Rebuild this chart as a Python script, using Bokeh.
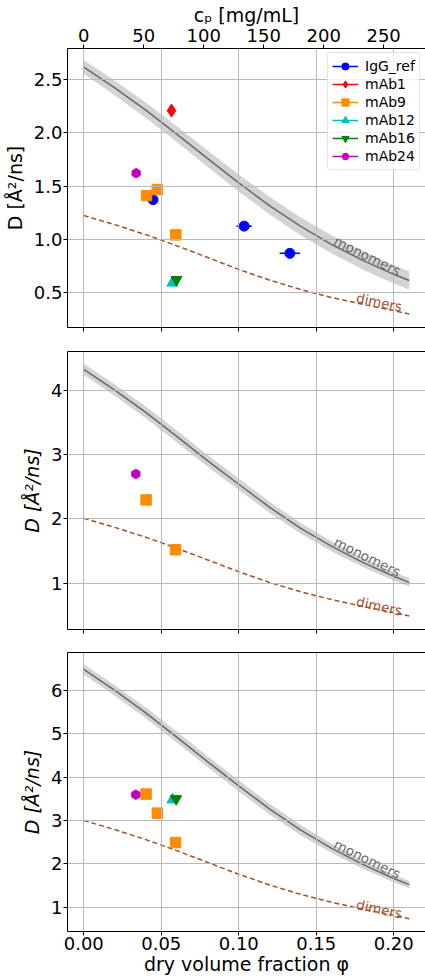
import numpy as np
from bokeh.plotting import figure
from bokeh.models import (Range1d, LinearAxis, FixedTicker, Label, Legend,
                          LegendItem, NumeralTickFormatter)
from bokeh.layouts import column
from bokeh.embed import file_html
from bokeh.resources import INLINE

# ---------------- data ----------------
phi_curve = [0.0, 0.02, 0.04, 0.06, 0.08, 0.10, 0.12, 0.14, 0.16, 0.18, 0.20, 0.21]

mono_top = [2.62, 2.423, 2.214, 1.989, 1.758, 1.530, 1.315, 1.121, 0.951, 0.802, 0.671, 0.613]
mono_top_band = [0.065, 0.068, 0.072, 0.075, 0.078, 0.080, 0.082, 0.083, 0.084, 0.085, 0.086, 0.087]
dim_top = [1.224, 1.138, 1.044, 0.940, 0.829, 0.717, 0.616, 0.528, 0.453, 0.389, 0.330, 0.297]

mono_mid = [4.33, 4.005, 3.659, 3.286, 2.905, 2.540, 2.180, 1.853, 1.572, 1.325, 1.108, 1.013]
mono_mid_band = [0.086, 0.088, 0.090, 0.091, 0.091, 0.090, 0.087, 0.083, 0.078, 0.073, 0.068, 0.066]
dim_mid = [2.01, 1.869, 1.715, 1.544, 1.361, 1.178, 1.011, 0.866, 0.744, 0.639, 0.543, 0.488]

mono_bot = [6.49, 6.003, 5.484, 4.926, 4.355, 3.800, 3.262, 2.778, 2.356, 1.986, 1.661, 1.519]
mono_bot_band = [0.116, 0.120, 0.124, 0.127, 0.128, 0.128, 0.125, 0.118, 0.108, 0.098, 0.088, 0.085]
dim_bot = [3.0, 2.79, 2.559, 2.304, 2.031, 1.758, 1.509, 1.293, 1.110, 0.954, 0.810, 0.729]

# top panel points
igg_phi = [0.0447, 0.1035, 0.133]
igg_D = [1.373, 1.124, 0.868]
igg_phi_err = [0.002, 0.005, 0.0066]
mab1_phi_top = [0.0566]
mab1_D_top = [2.21]
mab9_phi_top = [0.0405, 0.0475, 0.0594]
mab9_D_top = [1.411, 1.468, 1.042]
mab12_phi_top = [0.0572]
mab12_D_top = [0.59]
mab16_phi_top = [0.0598]
mab16_D_top = [0.62]
mab24_phi_top = [0.0338]
mab24_D_top = [1.622]

# middle panel points
mab9_phi_mid = [0.0402, 0.0592]
mab9_D_mid = [2.297, 1.52]
mab24_phi_mid = [0.0336]
mab24_D_mid = [2.70]

# bottom panel points
mab9_phi_bot = [0.0402, 0.0475, 0.0592]
mab9_D_bot = [3.61, 3.17, 2.49]
mab12_phi_bot = [0.0572]
mab12_D_bot = [3.48]
mab16_phi_bot = [0.0596]
mab16_D_bot = [3.50]
mab24_phi_bot = [0.0336]
mab24_D_bot = [3.596]

phi_ticks = [0.0, 0.05, 0.10, 0.15, 0.20]
cp_ticks = [0, 50, 100, 150, 200, 250]
CP_PER_PHI = 1292.0
yticks_top = [0.5, 1.0, 1.5, 2.0, 2.5]
yticks_mid = [1, 2, 3, 4]
yticks_bot = [1, 2, 3, 4, 5, 6]

names = ["IgG_ref", "mAb1", "mAb9", "mAb12", "mAb16", "mAb24"]
colors = {"IgG_ref": "#0000ff", "mAb1": "#ff0000", "mAb9": "#ff8c00",
          "mAb12": "#00bfbf", "mAb16": "#008000", "mAb24": "#bf00bf"}

# ---------------- layout constants ----------------
X0, X1 = -0.0105, 0.2205
FONT = "DejaVu Sans"
MONO_C = "#686868"
DIM_C = "#a0522d"


def style_axis(ax, standoff, show_labels=True):
    ax.axis_line_color = "black"
    ax.axis_line_width = 1
    ax.major_tick_line_color = "black"
    ax.major_tick_out = 4
    ax.major_tick_in = 0
    ax.minor_tick_out = 0
    ax.minor_tick_in = 0
    ax.major_label_text_font = FONT
    ax.major_label_standoff = standoff
    if show_labels:
        ax.major_label_text_font_size = "18px"
        ax.major_label_text_color = "black"
    else:
        ax.major_label_text_font_size = "0px"
        ax.major_label_text_color = None
    ax.axis_label_text_font = FONT
    ax.axis_label_text_font_size = "19px"
    ax.axis_label_text_color = "black"


def base_fig(height, top, bottom, y0, y1, yticks, yfmt, ylabel_italic, show_x=False):
    p = figure(width=425, height=height, title=None,
               x_range=Range1d(X0, X1), y_range=Range1d(y0, y1),
               output_backend="svg", toolbar_location=None,
               min_border_left=67, min_border_right=0,
               min_border_top=top, min_border_bottom=bottom)
    p.outline_line_color = None
    p.background_fill_color = "white"
    p.border_fill_color = "white"
    xax = p.below[0]
    yax = p.left[0]
    xax.ticker = FixedTicker(ticks=phi_ticks)
    xax.formatter = NumeralTickFormatter(format="0.00")
    yax.ticker = FixedTicker(ticks=yticks)
    yax.formatter = NumeralTickFormatter(format=yfmt)
    style_axis(xax, 1, show_x)
    style_axis(yax, 1, True)
    yax.axis_label = "D [Å²/ns]"
    yax.axis_label_standoff = 5
    yax.axis_label_text_font_style = "italic" if ylabel_italic else "normal"
    p.xgrid.ticker = FixedTicker(ticks=phi_ticks)
    p.ygrid.ticker = FixedTicker(ticks=yticks)
    for g in (p.xgrid[0], p.ygrid[0]):
        g.grid_line_color = "#b8b8b8"
        g.grid_line_width = 1
        g.level = "glyph"
    return p


def add_spine(p):
    spine = LinearAxis(ticker=FixedTicker(ticks=[]))
    style_axis(spine, 0, False)
    spine.major_tick_out = 1
    p.add_layout(spine, "above")


def draw_curves(p, mono, band, dim, mono_pos, dim_pos):
    lo = [m - b for m, b in zip(mono, band)]
    hi = [m + b for m, b in zip(mono, band)]
    p.varea(x=phi_curve, y1=lo, y2=hi, fill_color="#d3d3d3", level="underlay")
    p.line(phi_curve, mono, line_color=MONO_C, line_width=1.5)
    p.line(phi_curve, dim, line_color=DIM_C, line_width=1.5, line_dash="5 3")
    p.add_layout(Label(x=mono_pos[0], y=mono_pos[1], text="monomers", angle=-26 * np.pi / 180,
                       text_font=FONT, text_font_size="13.5px", text_color=MONO_C,
                       text_align="left", text_baseline="alphabetic"))
    p.add_layout(Label(x=dim_pos[0], y=dim_pos[1], text="dimers", angle=-12 * np.pi / 180,
                       text_font=FONT, text_font_size="13.5px", text_color=DIM_C,
                       text_align="left", text_baseline="alphabetic"))


MARK = {"IgG_ref": ("circle", 10, 0.0), "mAb1": ("diamond", 13, 0.0),
        "mAb9": ("square", 10.5, 0.0), "mAb12": ("triangle", 11, 0.0),
        "mAb16": ("inverted_triangle", 11, 0.0), "mAb24": ("hex", 9.5, np.pi / 2)}


def pts(p, name, xs, ys):
    m, s, a = MARK[name]
    return p.scatter(xs, ys, marker=m, size=s, angle=a, color=colors[name])


# ---------------- top panel ----------------
p1 = base_fig(351, 0, 24, 0.171, 2.794, yticks_top, "0.0", False)
p1.extra_x_ranges = {"cp": Range1d(X0 * CP_PER_PHI, X1 * CP_PER_PHI)}
top_ax = LinearAxis(x_range_name="cp", ticker=FixedTicker(ticks=cp_ticks),
                    formatter=NumeralTickFormatter(format="0"))
style_axis(top_ax, 3, True)
top_ax.axis_label = "cₚ [mg/mL]"
top_ax.axis_label_standoff = 0
top_ax.axis_label_text_font_style = "normal"
p1.add_layout(top_ax, "above")
draw_curves(p1, mono_top, mono_top_band, dim_top, (0.162, 0.995), (0.176, 0.455))

igg_lo = [x - e for x, e in zip(igg_phi, igg_phi_err)]
igg_hi = [x + e for x, e in zip(igg_phi, igg_phi_err)]
p1.segment(x0=igg_lo, y0=igg_D, x1=igg_hi, y1=igg_D, line_color=colors["IgG_ref"], line_width=1.5)
r = {}
r["IgG_ref"] = pts(p1, "IgG_ref", igg_phi, igg_D)
r["mAb1"] = pts(p1, "mAb1", mab1_phi_top, mab1_D_top)
r["mAb9"] = pts(p1, "mAb9", mab9_phi_top, mab9_D_top)
r["mAb12"] = pts(p1, "mAb12", mab12_phi_top, mab12_D_top)
r["mAb16"] = pts(p1, "mAb16", mab16_phi_top, mab16_D_top)
r["mAb24"] = pts(p1, "mAb24", mab24_phi_top, mab24_D_top)

items = []
for n in names:
    ln = p1.line(x=[np.nan], y=[np.nan], line_color=colors[n], line_width=1.5)
    items.append(LegendItem(label=n, renderers=[ln, r[n]]))
legend = Legend(items=items, location=(260, 157), padding=4, spacing=0, margin=0,
                glyph_width=26, glyph_height=18, label_height=18, label_standoff=7,
                label_text_font=FONT, label_text_font_size="14px", label_text_color="black",
                border_line_color="#cccccc", border_line_width=1,
                background_fill_color="white", background_fill_alpha=0.8)
if "border_radius" in Legend.properties():
    legend.border_radius = 3
p1.add_layout(legend)

# ---------------- middle panel ----------------
p2 = base_fig(301, 0, 23, 0.279, 4.607, yticks_mid, "0", True)
add_spine(p2)
draw_curves(p2, mono_mid, mono_mid_band, dim_mid, (0.162, 1.66), (0.176, 0.72))
pts(p2, "mAb9", mab9_phi_mid, mab9_D_mid)
pts(p2, "mAb24", mab24_phi_mid, mab24_D_mid)

# ---------------- bottom panel ----------------
p3 = base_fig(325, 0, 0, 0.436, 6.88, yticks_bot, "0", True, show_x=True)
add_spine(p3)
p3.below[0].axis_label = "dry volume fraction φ"
p3.below[0].axis_label_standoff = 0
p3.below[0].axis_label_text_font_style = "normal"
draw_curves(p3, mono_bot, mono_bot_band, dim_bot, (0.162, 2.48), (0.176, 1.07))
pts(p3, "mAb9", mab9_phi_bot, mab9_D_bot)
pts(p3, "mAb12", mab12_phi_bot, mab12_D_bot)
pts(p3, "mAb16", mab16_phi_bot, mab16_D_bot)
pts(p3, "mAb24", mab24_phi_bot, mab24_D_bot)

layout = column(p1, p2, p3, spacing=0)
open("out.html", "w").write(file_html(layout, INLINE, title="D vs phi"))
